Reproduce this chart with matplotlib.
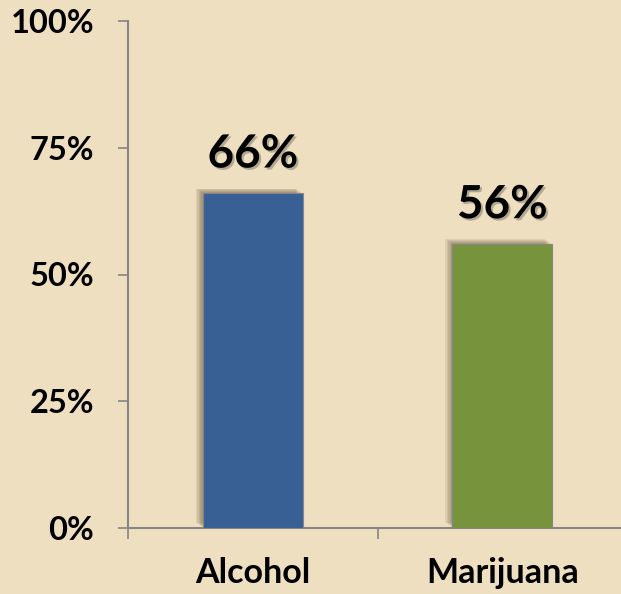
import matplotlib.pyplot as plt
import matplotlib.patheffects as pe
from matplotlib.ticker import FixedLocator

# chart data
categories = ['Alcohol', 'Marijuana']
values = [66, 56]
bar_colors = ['#386094', '#77933C']
y_ticks = [0, 25, 50, 75, 100]
y_tick_labels = ['0%', '25%', '50%', '75%', '100%']

bg = '#EEDFC0'
axis_gray = '#868686'
font = ['Lato', 'DejaVu Sans']

fig = plt.figure(figsize=(6.21, 5.94), dpi=100, facecolor=bg)
ax = fig.add_axes([128 / 621, 66 / 594, 499 / 621, 507 / 594])
ax.set_facecolor('none')

x = list(range(len(categories)))
bars = ax.bar(x, values, width=0.4, color=bar_colors, edgecolor=axis_gray,
              linewidth=0.8, zorder=3)
# soft shadow: a few stacked offsets
shadow = [pe.SimplePatchShadow(offset=(-k, k * 0.7), alpha=0.09, shadow_rgbFace='#3a2a10')
          for k in (5, 4, 3, 2, 1)]
for b in bars:
    b.set_path_effects(shadow + [pe.Normal()])

# value labels above bars
for xi, v in zip(x, values):
    ax.text(xi, v + 5.1, f'{v}%', ha='center', va='baseline', fontsize=33,
            fontweight='bold', family=font, color='black', zorder=4,
            path_effects=[pe.withSimplePatchShadow(offset=(1.5, -1.5), alpha=0.25)])

ax.set_xlim(-0.5, 1.5)
ax.set_ylim(0, 100)

ax.set_yticks(y_ticks)
ax.set_yticklabels(y_tick_labels, fontsize=23.5, fontweight='bold', family=font)
ax.tick_params(axis='y', direction='out', length=7.5, width=1.2, color=axis_gray, pad=17)

# category labels at centers, tick marks between categories
ax.set_xticks(x)
ax.set_xticklabels(categories, fontsize=24.5, fontweight='bold', family=font)
ax.tick_params(axis='x', which='major', length=0, pad=21)
ax.xaxis.set_minor_locator(FixedLocator([-0.5, 0.5, 1.5]))
ax.tick_params(axis='x', which='minor', direction='out', length=8, width=1.2, color=axis_gray)

for side in ['top', 'right']:
    ax.spines[side].set_visible(False)
for side in ['left', 'bottom']:
    ax.spines[side].set_color(axis_gray)
    ax.spines[side].set_linewidth(1.5)

fig.savefig('out.png', dpi=100, facecolor=bg)
